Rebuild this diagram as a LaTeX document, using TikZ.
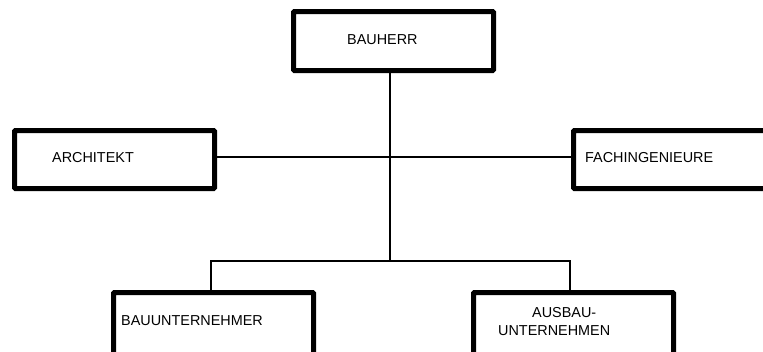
\documentclass[tikz,border=0pt]{standalone}
\usepackage{fontspec}
\setmainfont{Liberation Sans}
\begin{document}
\begin{tikzpicture}[x=1pt,y=-1pt,
  orgbox/.style={draw=black,line width=5pt,rounded corners=1pt,fill=white,
    minimum width=200pt,minimum height=58pt,inner sep=0pt,outer sep=0pt,anchor=north west},
  caption/.style={inner sep=0pt,anchor=west,font=\fontsize{14.4}{18}\selectfont,align=left},
  link/.style={draw=black,line width=1.5pt}]
\useasboundingbox (0,0) rectangle (763,351);
\begin{scope}
\clip (0,0) rectangle (763,351);
% junction points of the connectors
\coordinate (fork) at (390,261);
\coordinate (forkL) at (211,261);
\coordinate (forkR) at (570,261);
% boxes (the lower row runs past the bottom edge of the page)
\node[orgbox,minimum height=59pt] (bauherr) at (293.5,11.5) {};
\node[orgbox] (arch) at (14.5,130.5) {};
\node[orgbox] (fach) at (573.5,130.5) {};
\node[orgbox,minimum height=70pt] (bau) at (113.5,292.5) {};
\node[orgbox,minimum height=70pt] (ausbau) at (473.5,292.5) {};
% lines
\draw[link] (bauherr.south -| fork) -- (fork);
\draw[link] ([yshift=2.5pt]arch.east) -- ([yshift=2.5pt]fach.west);
\draw[link] (forkL |- bau.north) -- (forkL) -- (forkR) -- (forkR |- ausbau.north);
% texts
\node[caption] (tb) at (347,40) {BAUHERR};
\node[caption] (ta) at (52,157.5) {ARCHITEKT};
\node[caption] (tf) at (585,157.5) {FACHINGENIEURE};
\node[caption] (tu) at (121,321) {BAUUNTERNEHMER};
\node[caption] (tz) at (498,322) {\hspace*{34pt}AUSBAU-\\UNTERNEHMEN};
\end{scope}
\end{tikzpicture}
\end{document}
